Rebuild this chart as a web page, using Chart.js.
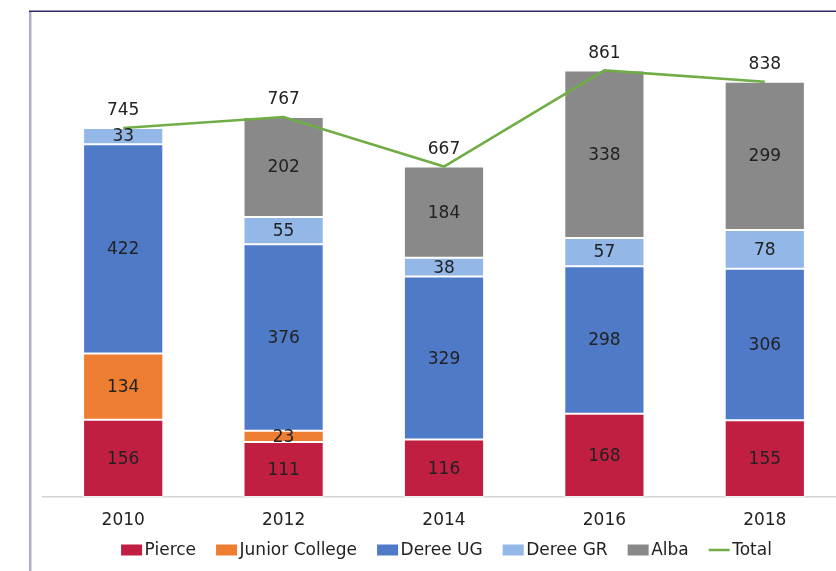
<!DOCTYPE html>
<html>
<head>
<meta charset="utf-8">
<script src="https://cdn.jsdelivr.net/npm/chart.js@4/dist/chart.umd.min.js"></script>
<style>
  html, body { margin: 0; padding: 0; background: #fff; overflow: hidden; }
  #wrap { position: absolute; left: 0; top: 0; width: 850px; height: 571px; }
</style>
</head>
<body>
<div id="wrap"><canvas id="chart"></canvas></div>
<script>
const years = ['2010', '2012', '2014', '2016', '2018'];
const pierce = [156, 111, 116, 168, 155];
const juniorCollege = [134, 23, null, null, null];
const dereeUG = [422, 376, 329, 298, 306];
const dereeGR = [33, 55, 38, 57, 78];
const alba = [null, 202, 184, 338, 299];
const total = [745, 767, 667, 861, 838];

const FONT = 'DejaVu Sans';
const TEXT = '#222222';

// etiquetas de valor dentro de las barras y encima de la linea
const valueLabels = {
  id: 'valueLabels',
  afterDatasetsDraw(chart) {
    const ctx = chart.ctx;
    ctx.save();
    ctx.font = '17px "' + FONT + '"';
    ctx.fillStyle = TEXT;
    ctx.textAlign = 'center';
    ctx.textBaseline = 'middle';
    chart.data.datasets.forEach((ds, i) => {
      const meta = chart.getDatasetMeta(i);
      meta.data.forEach((el, j) => {
        const v = ds.data[j];
        if (v == null) return;
        if (ds.type === 'line') {
          ctx.fillText(v, el.x, el.y - 17);
        } else {
          ctx.fillText(v, el.x, (el.y + el.base) / 2 + 1);
        }
      });
    });
    ctx.restore();
  }
};

// leyenda propia: cuadros 21x11, texto pegado al cuadro
const legendRow = {
  id: 'legendRow',
  afterDraw(chart) {
    const ctx = chart.ctx;
    const y = 550;
    const box = 21, gap = 2.5, spacing = 20;
    ctx.save();
    ctx.font = '17px "' + FONT + '"';
    ctx.textBaseline = 'middle';
    ctx.textAlign = 'left';
    const items = chart.data.datasets.map(ds => ({
      ds, w: box + gap + ctx.measureText(ds.label).width
    }));
    const full = items.reduce((s, it) => s + it.w, 0) + spacing * (items.length - 1);
    let x = 446.5 - full / 2;
    items.forEach(({ ds, w }) => {
      if (ds.type === 'line') {
        ctx.strokeStyle = ds.borderColor;
        ctx.lineWidth = 2.5;
        ctx.beginPath();
        ctx.moveTo(x, y);
        ctx.lineTo(x + box, y);
        ctx.stroke();
      } else {
        ctx.fillStyle = ds.backgroundColor;
        ctx.fillRect(x, y - 5.5, box, 11);
      }
      ctx.fillStyle = TEXT;
      ctx.fillText(ds.label, x + box + gap, y + 1);
      x += w + spacing;
    });
    ctx.restore();
  }
};

// marco del grafico original (borde izquierdo y superior)
const frame = {
  id: 'frame',
  afterDraw(chart) {
    const ctx = chart.ctx;
    ctx.save();
    ctx.strokeStyle = '#adadcf';
    ctx.lineWidth = 2.5;
    ctx.beginPath();
    ctx.moveTo(30.2, 11);
    ctx.lineTo(30.2, 571);
    ctx.stroke();
    ctx.strokeStyle = '#2c2a62';
    ctx.lineWidth = 1.5;
    ctx.beginPath();
    ctx.moveTo(29, 11.2);
    ctx.lineTo(850, 11.2);
    ctx.stroke();
    ctx.restore();
  }
};

const barDefaults = { borderColor: 'rgba(255,255,255,0.7)', borderWidth: 1, borderSkipped: false, stack: 'alumnos' };

new Chart(document.getElementById('chart'), {
  data: {
    labels: years,
    datasets: [
      { type: 'bar', label: 'Pierce', data: pierce, backgroundColor: '#c01f41', ...barDefaults },
      { type: 'bar', label: 'Junior College', data: juniorCollege, backgroundColor: '#ed7d31', ...barDefaults },
      { type: 'bar', label: 'Deree UG', data: dereeUG, backgroundColor: '#4e7ac7', ...barDefaults },
      { type: 'bar', label: 'Deree GR', data: dereeGR, backgroundColor: '#93b7e7', ...barDefaults },
      { type: 'bar', label: 'Alba', data: alba, backgroundColor: '#898989', ...barDefaults },
      {
        type: 'line', label: 'Total', data: total, stack: 'total', order: -1,
        borderColor: '#70ad47', backgroundColor: '#70ad47', borderWidth: 2.5,
        pointRadius: 0, pointHoverRadius: 0, tension: 0
      }
    ]
  },
  options: {
    responsive: true,
    maintainAspectRatio: false,
    animation: false,
    layout: { padding: { left: 43, right: 5, top: 1.5, bottom: 27.5 } },
    datasets: { bar: { barPercentage: 0.5, categoryPercentage: 1 } },
    plugins: {
      legend: { display: false },
      tooltip: { enabled: false }
    },
    scales: {
      x: {
        stacked: true,
        grid: { display: false, drawTicks: false },
        border: { display: true, color: '#d4d4d4', width: 1.5 },
        ticks: { color: TEXT, padding: 13, font: { family: FONT, size: 17 } }
      },
      y: {
        stacked: true,
        display: false,
        min: 0,
        max: 1000
      }
    }
  },
  plugins: [valueLabels, legendRow, frame]
});
</script>
</body>
</html>
